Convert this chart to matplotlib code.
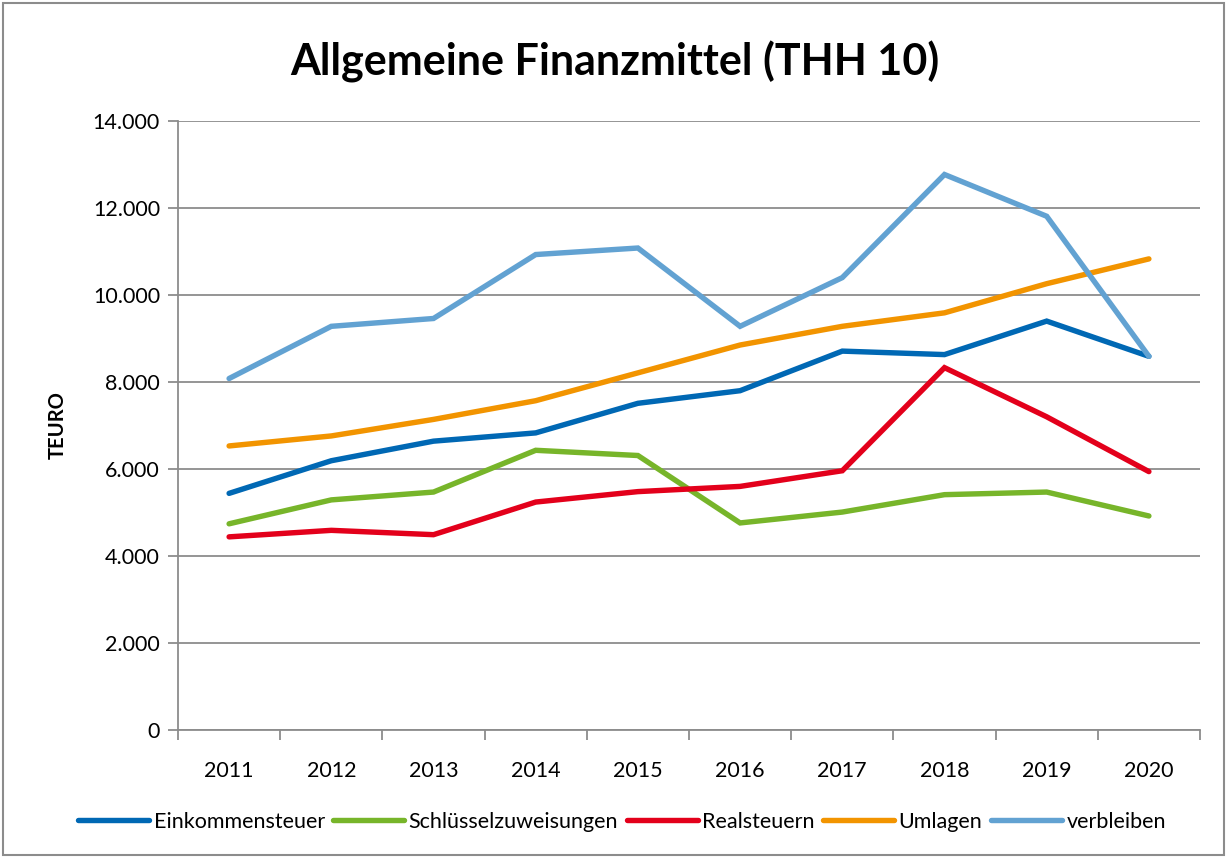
import matplotlib
matplotlib.use("Agg")
import matplotlib.pyplot as plt
from matplotlib.ticker import FuncFormatter, MultipleLocator, FixedLocator
from matplotlib.patches import Rectangle

years = ["2011", "2012", "2013", "2014", "2015", "2016", "2017", "2018", "2019", "2020"]
einkommensteuer = [5440, 6190, 6640, 6830, 7510, 7800, 8710, 8630, 9400, 8590]
schluesselzuweisungen = [4740, 5290, 5470, 6430, 6310, 4760, 5010, 5410, 5470, 4920]
realsteuern = [4440, 4590, 4490, 5240, 5480, 5600, 5960, 8330, 7200, 5940]
umlagen = [6530, 6760, 7140, 7570, 8210, 8850, 9280, 9590, 10260, 10830]
verbleiben = [8080, 9280, 9460, 10930, 11080, 9280, 10400, 12770, 11810, 8590]

series = [
    ("Einkommensteuer", einkommensteuer, "#0068B4"),
    ("Schlüsselzuweisungen", schluesselzuweisungen, "#77B52A"),
    ("Realsteuern", realsteuern, "#E3001B"),
    ("Umlagen", umlagen, "#F29400"),
    ("verbleiben", verbleiben, "#62A2D2"),
]

plt.rcParams['font.family'] = ['Lato', 'DejaVu Sans']

W, H = 1227, 858
fig = plt.figure(figsize=(W / 100, H / 100), dpi=100)
ax = fig.add_axes([178 / W, 1 - 730 / H, (1200 - 178) / W, (730 - 121) / H])

x = list(range(len(years)))
for name, vals, col in series:
    ax.plot(x, vals, color=col, lw=3.9, label=name, solid_capstyle='round', solid_joinstyle='miter')

ax.set_xlim(-0.5, len(years) - 0.5)
ax.set_ylim(0, 14000)
ax.yaxis.set_major_locator(MultipleLocator(2000))
ax.yaxis.set_major_formatter(FuncFormatter(lambda v, p: f"{int(v):,}".replace(",", ".")))
ax.grid(axis='y', color='#8C8C8C', lw=1.3)
ax.set_axisbelow(True)

ax.set_xticks(x)
ax.set_xticklabels(years)
ax.xaxis.set_minor_locator(FixedLocator([i - 0.5 for i in range(len(years) + 1)]))
ax.tick_params(axis='x', which='major', length=0, pad=22, labelsize=15.5)
ax.tick_params(axis='x', which='minor', length=7, color='#8C8C8C', width=1.3, direction='out')
ax.tick_params(axis='y', length=7, color='#8C8C8C', width=1.3, labelsize=15.5, pad=6)

for s in ['top', 'right']:
    ax.spines[s].set_visible(False)
for s in ['left', 'bottom']:
    ax.spines[s].set_color('#8C8C8C')
    ax.spines[s].set_linewidth(1.3)

ax.set_ylabel("TEURO", fontsize=14.5, fontweight='bold', labelpad=18)

fig.text(615 / W, 1 - 62 / H, "Allgemeine Finanzmittel (THH 10)", ha='center', va='center',
         fontsize=31, fontweight='bold')

fig.legend(loc='center', bbox_to_anchor=(622 / W, 1 - 822 / H), ncol=5, frameon=False,
           fontsize=15.5, handlelength=3.3, handletextpad=0.2, columnspacing=0.4)

fig.patches.append(Rectangle((3 / W, 3 / H), 1 - 6 / W, 1 - 6 / H, transform=fig.transFigure,
                             fill=False, edgecolor='#8C8C8C', lw=1.5))

fig.savefig("out.png", dpi=100)
